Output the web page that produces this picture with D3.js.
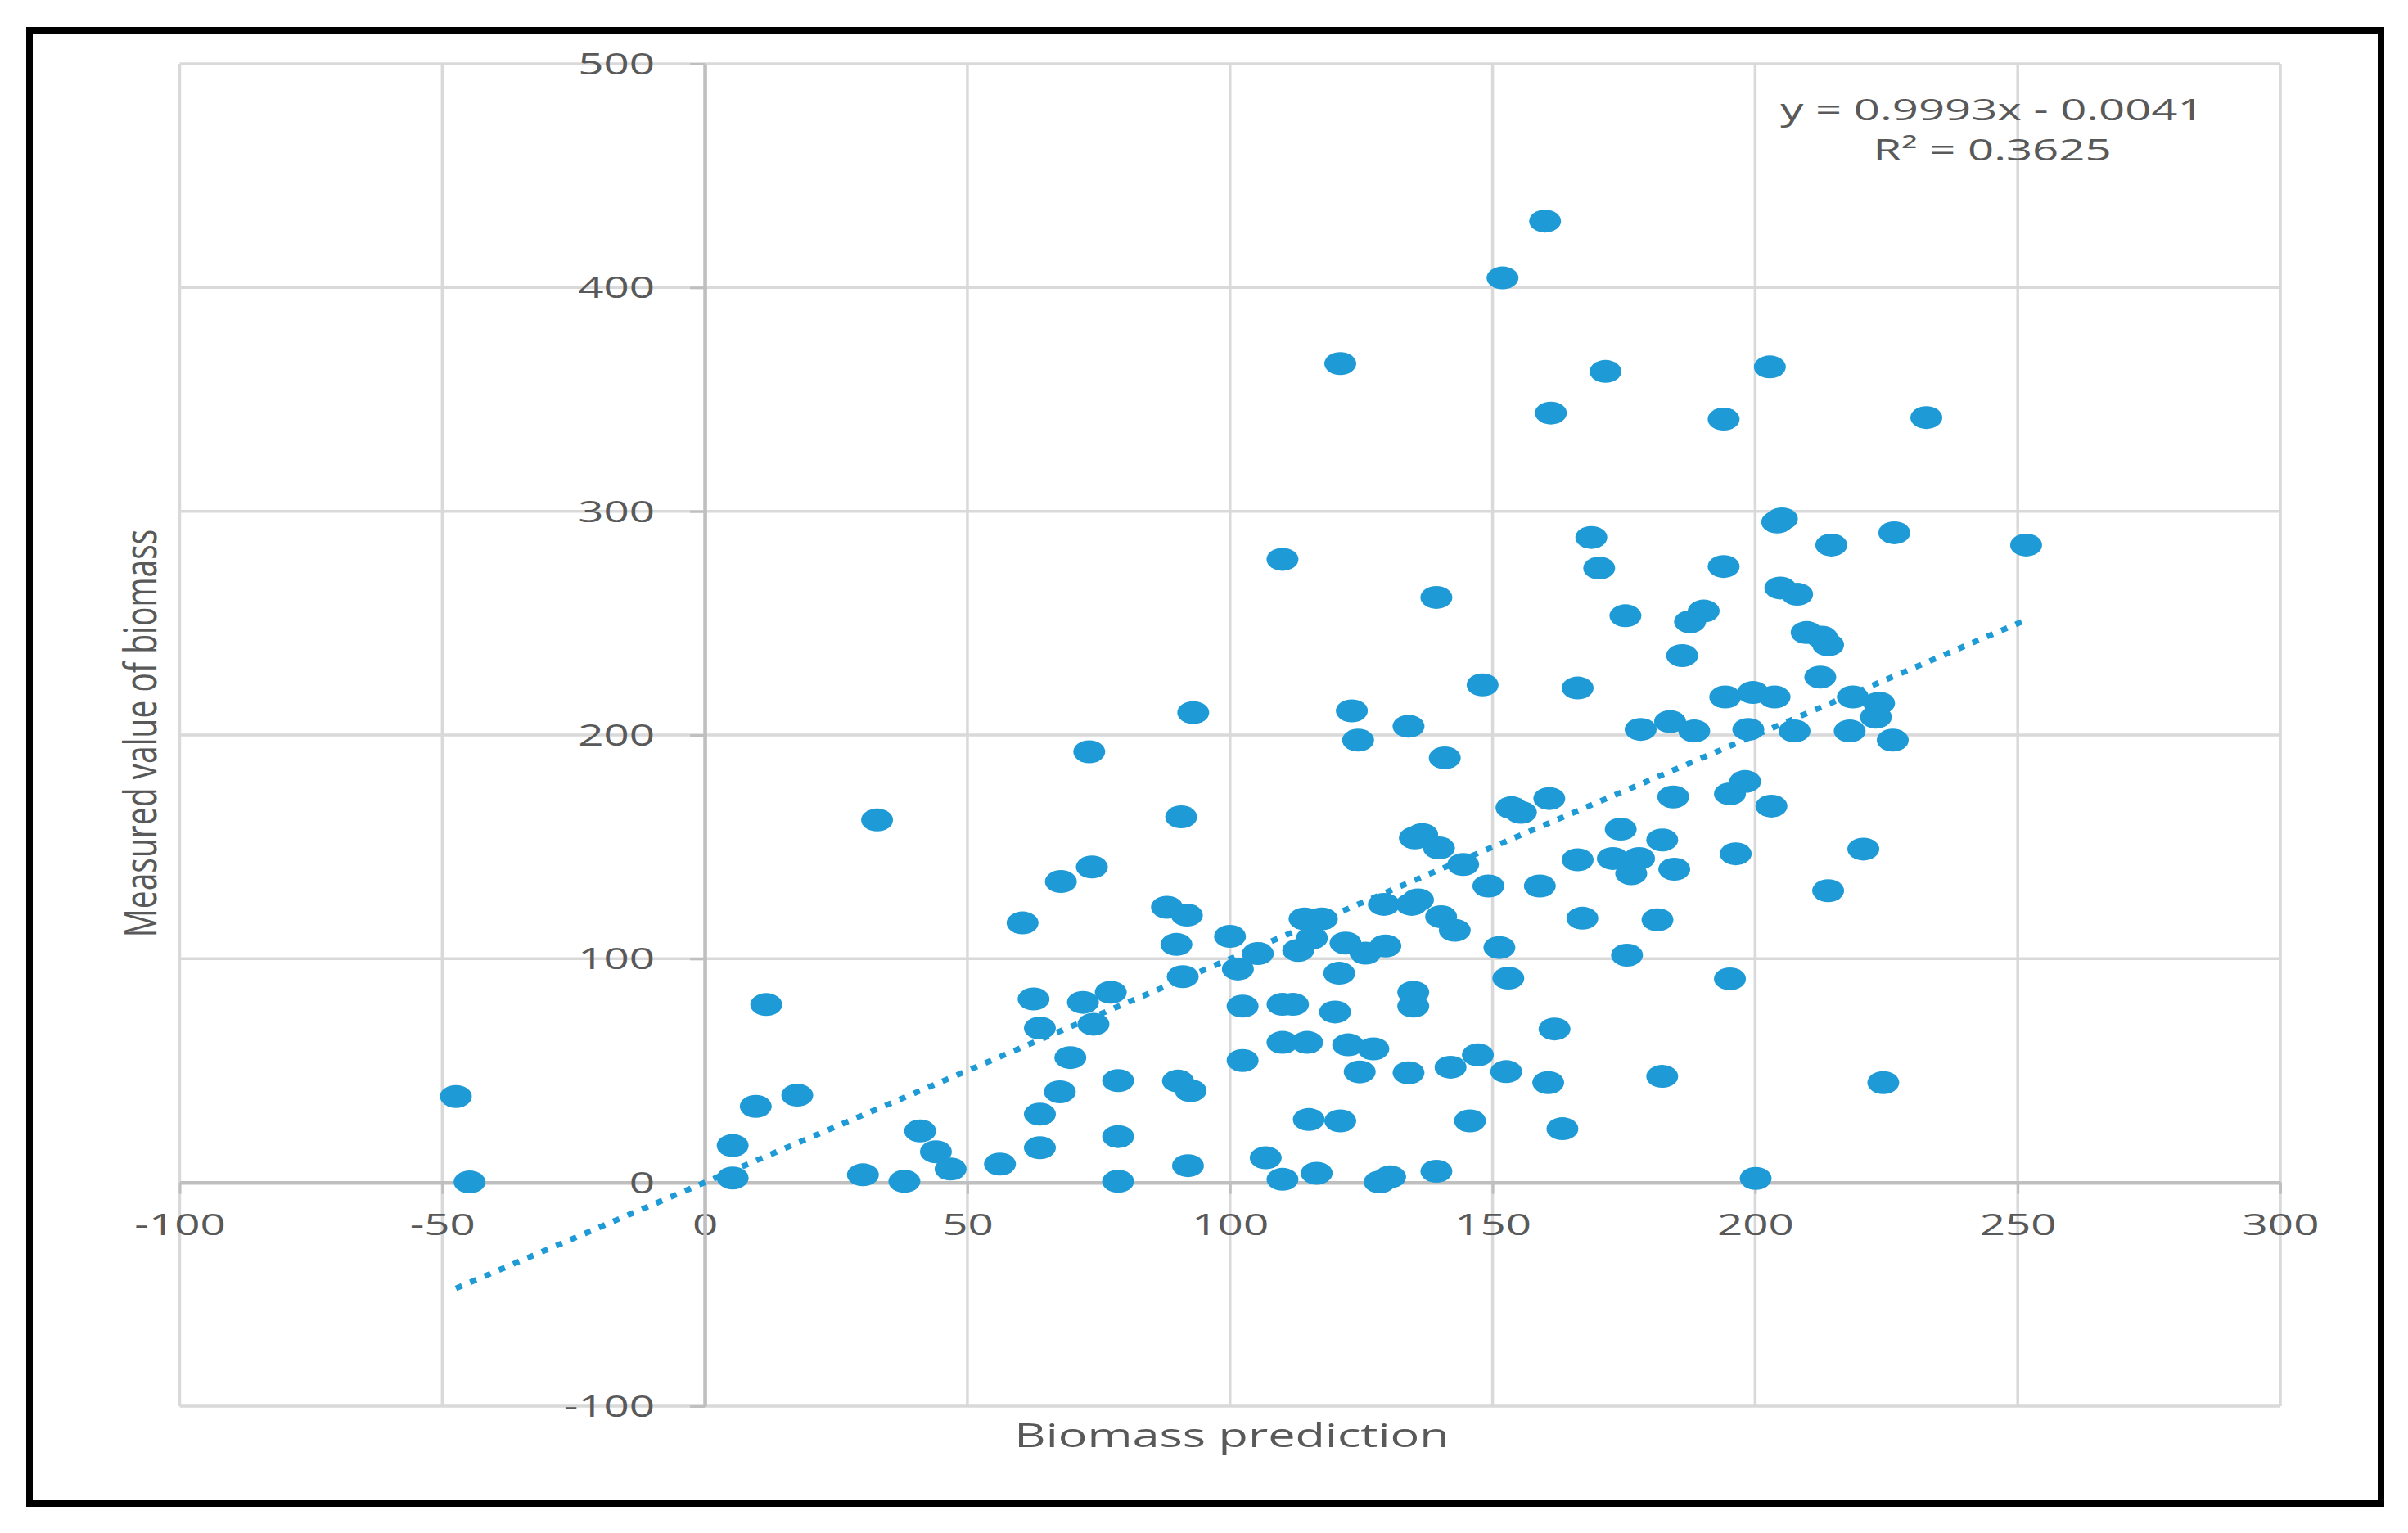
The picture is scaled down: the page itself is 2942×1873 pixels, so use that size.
<!DOCTYPE html>
<html>
<head>
<meta charset="utf-8">
<script src="https://cdn.jsdelivr.net/npm/d3@7"></script>
<style>
  body { margin: 0; background: #fff; }
  svg text { font-family: "Open Sans", sans-serif; fill: #595959; }
</style>
</head>
<body>
<script>
// values
const predicted = [-47.4, -44.8, 5.3, 5.3, 9.7, 11.7, 17.6, 30.1, 32.8, 38, 41, 44, 46.8, 56.2, 60.5, 62.6, 63.8, 63.8, 63.8, 67.8,
  67.6, 69.6, 72, 73.2, 73.7, 74, 77.3, 78.7, 78.7, 78.7, 88, 89.8, 90.7, 91, 90.1, 91.8, 92.5, 92, 93, 100,
  101.5, 102.4, 102.4, 105.3, 106.8, 110, 110, 110, 110, 112, 113, 114.2, 114.7, 115, 115.6, 116.5, 117.5, 120, 120.8, 121,
  121, 122, 122.5, 123.2, 124.4, 124.7, 125.8, 127.3, 128.5, 129.3, 129.6, 130.5, 134.6, 134, 134, 135.8, 134.9, 134.9, 135.2, 136.6,
  139.3, 139.3, 139.8, 140.2, 140.9, 142, 142.8, 144.4, 145.7, 147.2, 148.1, 149.2, 151.3, 151.9, 152.6, 153, 153.6, 155.4, 159, 160,
  160.8, 161.1, 160.6, 161.8, 163.3, 166.2, 166.2, 167.1, 168.8, 170.3, 171.5, 172.9, 174.4, 175.3, 175.6, 176.4, 177.9, 178.2, 181.4, 182.3,
  182.3, 183.8, 184.4, 184.6, 186.1, 187.6, 188.4, 190.2, 194, 194, 194.3, 195.2, 195.2, 196.3, 198.1, 198.7, 199.6, 200.1, 202.8, 203.1,
  203.7, 204.2, 204.8, 205.1, 207.5, 208, 209.8, 212.4, 212.7, 213.9, 213.9, 214.5, 218, 218.6, 220.6, 223, 223.6, 224.4, 226.2, 226.5,
  232.6, 251.6]
const measured = [38.4, 0.2, 16.5, 2, 34, 79.5, 39, 3.4, 162, 0.5, 23, 13.7, 6, 8.2, 116, 82, 69, 30.5, 15.5, 134.5,
  40.5, 55.8, 80.5, 192.5, 141, 70.7, 85, 45.5, 20.5, 0.5, 123, 106.4, 163.4, 92, 45.3, 119.5, 41, 7.5, 210, 110,
  95.4, 78.8, 54.5, 102.3, 11, 278.5, 79.6, 62.6, 1.4, 79.6, 103.7, 117.8, 62.6, 28.1, 109.2, 4.1, 117.8, 76.2, 93.5, 366,
  27.5, 107, 61.5, 210.8, 197.7, 49.4, 102.5, 59.7, 0.2, 124.3, 105.7, 2.5, 124.3, 49, 203.9, 126.3, 85, 78.8, 154, 155.5,
  261.5, 5, 149.5, 118.8, 189.8, 51.5, 112.7, 142.1, 27.5, 57, 222.4, 132.5, 105, 404.3, 49.5, 91.3, 167.5, 165.4, 132.5, 429.7,
  171.6, 343.9, 44.6, 68.6, 24, 221, 144.2, 118.1, 288.3, 274.6, 362.5, 144.8, 157.9, 253.3, 101.6, 138, 144.8, 202.5, 117.4, 153.1,
  47.4, 206, 172.3, 140, 235.5, 250.6, 201.8, 255.4, 341.2, 275.3, 217, 173.7, 91, 146.9, 179.2, 202.5, 219, 1.8, 364.5, 168.2,
  217, 295.2, 265.7, 296.6, 201.8, 262.9, 245.8, 225.9, 243.7, 240.3, 130.4, 284.9, 201.8, 217, 149, 208, 214.2, 44.6, 197.7, 290.4,
  341.9, 284.9]

const xTicks = [-100, -50, 0, 50, 100, 150, 200, 250, 300]
const yTicks = [-100, 0, 100, 200, 300, 400, 500]
const trendSlope = 0.9993
const trendIntercept = -0.0041
const equationLines = ['y = 0.9993x - 0.0041', 'R² = 0.3625']

const blue = '#1e9ad6'
const svg = d3.select('body').append('svg')
  .attr('width', 2942)
  .attr('height', 1873)

const margin = {top: 78, left: 219.5}
const width = 2566.5
const height = 1640

// frame round the whole figure
svg.append('rect')
  .attr('x', 36).attr('y', 37)
  .attr('width', 2873).attr('height', 1800)
  .attr('fill', 'none').attr('stroke', '#000').attr('stroke-width', 8)

const g = svg.append('g')
  .attr('transform', `translate(${margin.left}, ${margin.top})`)

const x = d3.scaleLinear().domain([-100, 300]).range([0, width])
const y = d3.scaleLinear().domain([-100, 500]).range([height, 0])

// gridlines
g.selectAll('.vgrid').data(xTicks).enter().append('line')
  .attr('x1', d => x(d)).attr('x2', d => x(d))
  .attr('y1', 0).attr('y2', height)
  .attr('stroke', '#d9d9d9').attr('stroke-width', 3.5)
g.selectAll('.hgrid').data(yTicks).enter().append('line')
  .attr('y1', d => y(d)).attr('y2', d => y(d))
  .attr('x1', 0).attr('x2', width)
  .attr('stroke', '#d9d9d9').attr('stroke-width', 3.5)

// axes cross at zero
const plain = d => String(d)
const xAxis = g.append('g')
  .attr('transform', `translate(0, ${y(0)})`)
  .call(d3.axisBottom(x).tickValues(xTicks).tickFormat(plain).tickSize(14).tickSizeOuter(0))
const yAxis = g.append('g')
  .attr('transform', `translate(${x(0)}, 0)`)
  .call(d3.axisLeft(y).tickValues(yTicks).tickFormat(plain).tickSize(18).tickSizeOuter(0))

;[xAxis, yAxis].forEach(a => {
  a.select('.domain').attr('stroke', '#bfbfbf').attr('stroke-width', 4.5)
  a.selectAll('.tick line').attr('stroke', '#bfbfbf').attr('stroke-width', 3)
  a.selectAll('text').attr('font-size', 36).style('fill', '#595959')
})
xAxis.selectAll('text')
  .attr('y', 0).attr('dy', '0.35em')
  .attr('transform', 'translate(0, 52) scale(1.52, 1)')
yAxis.selectAll('text')
  .attr('x', 0).attr('dy', '0.35em')
  .attr('transform', 'translate(-61, 0) scale(1.52, 1)')

// trendline
const xr = d3.extent(predicted)
g.append('line')
  .attr('x1', x(xr[0])).attr('y1', y(trendSlope * xr[0] + trendIntercept))
  .attr('x2', x(xr[1])).attr('y2', y(trendSlope * xr[1] + trendIntercept))
  .attr('stroke', blue).attr('stroke-width', 7)
  .attr('stroke-dasharray', '8 11')

// points
g.selectAll('ellipse').data(predicted).enter().append('ellipse')
  .attr('cx', d => x(d))
  .attr('cy', (d, i) => y(measured[i]))
  .attr('rx', 19.5).attr('ry', 14)
  .attr('fill', blue)

// titles
svg.append('text')
  .attr('transform', 'translate(1505, 1754) scale(1.45, 1)')
  .attr('text-anchor', 'middle').attr('dy', '0.35em')
  .attr('font-size', 41)
  .text('Biomass prediction')

svg.append('text')
  .attr('transform', 'translate(172, 896) scale(1.4, 1) rotate(-90)')
  .attr('text-anchor', 'middle').attr('dy', '0.35em')
  .attr('font-size', 39)
  .text('Measured value of biomass')

svg.selectAll('.eq').data(equationLines).enter().append('text')
  .attr('transform', (d, i) => `translate(2434, ${134 + i * 49}) scale(1.52, 1)`)
  .attr('text-anchor', 'middle').attr('dy', '0.35em')
  .attr('font-size', 37)
  .text(d => d)
</script>
</body>
</html>
